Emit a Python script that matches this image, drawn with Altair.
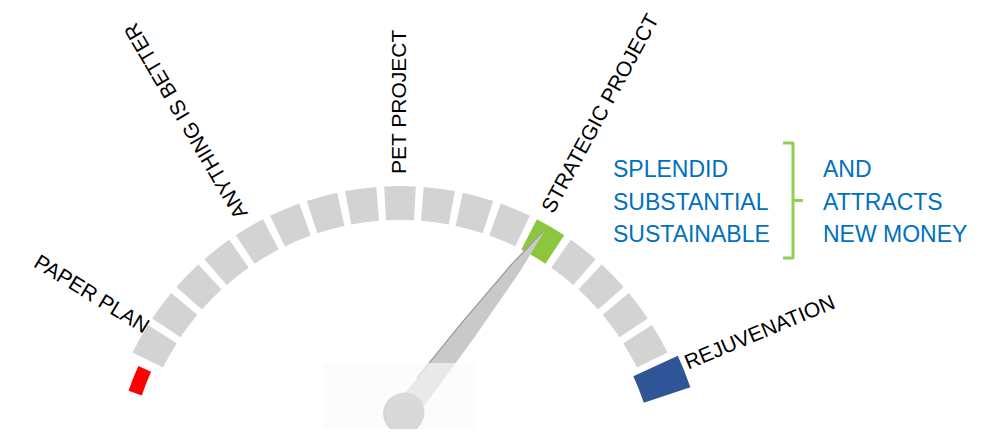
import math
import altair as alt
import pandas as pd

# ---------------- data ----------------
segment_index = list(range(19))
segment_kind = ["low"] + ["idle"] * 12 + ["current"] + ["idle"] * 4 + ["high"]
kind_colors = {"low": "#ff0000", "idle": "#d3d3d3", "current": "#8cc63e", "high": "#2f5597"}
needle_value = 12.9

label_texts = ["PAPER PLAN", "ANYTHING IS BETTER", "PET PROJECT", "STRATEGIC PROJECT", "REJUVENATION"]
label_values = [1.3, 5.0, 9.0, 12.75, 17.85]
label_outward = [False, True, True, True, True]

left_words = ["SPLENDID", "SUBSTANTIAL", "SUSTAINABLE"]
right_words = ["AND", "ATTRACTS", "NEW MONEY"]

# ---------------- layout ----------------
W, H = 965, 421
PITCH = 7.6          # degrees per gauge step
MID = 9              # index at 12 o'clock
XD = [-392, 573]     # gauge-centred pixel-like coordinates (y up)
YD = [55, 476]
xs = alt.Scale(domain=XD, nice=False, zero=False)
ys = alt.Scale(domain=YD, nice=False, zero=False)

half_w = {"low": 0.35, "idle": 0.40, "current": 0.40, "high": 0.42}
radii = {"low": (273, 287), "idle": (264, 298), "current": (264, 298), "high": (257, 306)}

def ang(v):
    return math.radians((v - MID) * PITCH)

def polar(v, r):
    a = ang(v)
    return r * math.sin(a), r * math.cos(a)

seg = pd.DataFrame({
    "i": segment_index,
    "kind": segment_kind,
})
seg["t0"] = seg["i"] - seg["kind"].map(half_w)
seg["t1"] = seg["i"] + seg["kind"].map(half_w)
seg["r0"] = seg["kind"].map(lambda k: radii[k][0])
seg["r1"] = seg["kind"].map(lambda k: radii[k][1])
seg["color"] = seg["kind"].map(kind_colors)
seg["cx"] = 0
seg["cy"] = 0

full = 2 * math.pi
theta_scale = alt.Scale(domain=[0, 18], range=[full + ang(0), full + ang(18)])

arcs = alt.Chart(seg).mark_arc(stroke=None).encode(
    x=alt.X("cx:Q", scale=xs, axis=None),
    y=alt.Y("cy:Q", scale=ys, axis=None),
    theta=alt.Theta("t0:Q", scale=theta_scale),
    theta2="t1:Q",
    radius=alt.Radius("r1:Q", scale=None),
    radius2="r0:Q",
    color=alt.Color("color:N", scale=None),
)

# needle
hub = (5.0, 72.0)
tip = polar(needle_value, 290)
dx, dy = tip[0] - hub[0], tip[1] - hub[1]
L = math.hypot(dx, dy)
ux, uy = dx / L, dy / L
nx, ny = -uy, ux
fr = [0.0, 0.45, 0.8, 1.0]
wd = [24, 19, 11, 1]
needle_df = pd.DataFrame({
    "f": fr,
    "px": [hub[0] + f * dx for f in fr],
    "py": [hub[1] + f * dy for f in fr],
    "w": wd,
})
needle = alt.Chart(needle_df).mark_trail(color="#c9c9c9").encode(
    x=alt.X("px:Q", scale=xs, axis=None),
    y=alt.Y("py:Q", scale=ys, axis=None),
    size=alt.Size("w:Q", scale=None),
    order="f:Q",
)

def width_at(f):
    for k in range(len(fr) - 1):
        if fr[k] <= f <= fr[k + 1]:
            t = (f - fr[k]) / (fr[k + 1] - fr[k])
            return wd[k] + t * (wd[k + 1] - wd[k])
    return wd[-1]

ef = [0.15, 0.45, 0.8, 1.0]
edge_df = pd.DataFrame({
    "f": ef,
    "px": [hub[0] + f * dx + nx * width_at(f) / 2 for f in ef],
    "py": [hub[1] + f * dy + ny * width_at(f) / 2 for f in ef],
})
edge = alt.Chart(edge_df).mark_line(color="#9c9c9c", strokeWidth=1.3).encode(
    x=alt.X("px:Q", scale=xs, axis=None),
    y=alt.Y("py:Q", scale=ys, axis=None),
    order="f:Q",
)

veil_df = pd.DataFrame({"x0": [hub[0] - 82], "x1": [hub[0] + 71], "y0": [hub[1] + 49], "y1": [YD[0]]})
veil = alt.Chart(veil_df).mark_rect(color="#fafafa", opacity=0.65).encode(
    x=alt.X("x0:Q", scale=xs, axis=None), x2="x1:Q",
    y=alt.Y("y0:Q", scale=ys, axis=None), y2="y1:Q",
)

hub_df = pd.DataFrame({"px": [hub[0]], "py": [hub[1]]})
hub_shadow = alt.Chart(hub_df).transform_calculate(sx="datum.px - 1.5", sy="datum.py - 1.5").mark_circle(
    color="#c2c2c2", opacity=0.7, size=math.pi * 23 ** 2).encode(
    x=alt.X("sx:Q", scale=xs, axis=None),
    y=alt.Y("sy:Q", scale=ys, axis=None),
)
hub_mark = alt.Chart(hub_df).mark_circle(color="#d9d9d9", opacity=1, size=math.pi * 22 ** 2).encode(
    x=alt.X("px:Q", scale=xs, axis=None),
    y=alt.Y("py:Q", scale=ys, axis=None),
)

# gauge labels, radial
R_OUT, R_IN = 310, 297
rows = []
for t, v, o in zip(label_texts, label_values, label_outward):
    r = R_OUT if o else R_IN
    x, y = polar(v, r)
    deg = (v - MID) * PITCH
    rot = (deg - 90) if o else (deg + 90)
    rows.append({"text": t, "px": x, "py": y, "rot": rot % 360, "out": o})
lab = pd.DataFrame(rows)

def label_layer(outward, align):
    return alt.Chart(lab[lab["out"] == outward]).mark_text(
        align=align, baseline="middle", font="Liberation Sans", fontSize=21, color="#000000"
    ).encode(
        x=alt.X("px:Q", scale=xs, axis=None),
        y=alt.Y("py:Q", scale=ys, axis=None),
        text="text:N",
        angle=alt.Angle("rot:Q", scale=None),
    )

# blue statements
LINE = 32.5
words = pd.DataFrame(
    [{"text": w, "col": 0, "line": k} for k, w in enumerate(left_words)]
    + [{"text": w, "col": 1, "line": k} for k, w in enumerate(right_words)]
)
words["px"] = words["col"].map({0: 213, 1: 423})
words["py"] = 307 - words["line"] * LINE
statements = alt.Chart(words).mark_text(
    align="left", baseline="alphabetic", font="Liberation Sans", fontSize=23, color="#0070c0"
).encode(
    x=alt.X("px:Q", scale=xs, axis=None),
    y=alt.Y("py:Q", scale=ys, axis=None),
    text="text:N",
)

# bracket
bx, btop, bbot = 393, 341, 226
br_df = pd.DataFrame({
    "o": [0, 1, 2, 3],
    "px": [bx - 10, bx, bx, bx - 10],
    "py": [btop, btop, bbot, bbot],
})
bracket = alt.Chart(br_df).mark_line(color="#92d050", strokeWidth=3, strokeJoin="round").encode(
    x=alt.X("px:Q", scale=xs, axis=None),
    y=alt.Y("py:Q", scale=ys, axis=None),
    order="o:Q",
)
tick_df = pd.DataFrame({"o": [0, 1], "px": [bx, bx + 10], "py": [(btop + bbot) / 2] * 2})
tick = alt.Chart(tick_df).mark_line(color="#92d050", strokeWidth=3).encode(
    x=alt.X("px:Q", scale=xs, axis=None),
    y=alt.Y("py:Q", scale=ys, axis=None),
    order="o:Q",
)

chart = alt.layer(
    arcs, needle, edge, veil, hub_shadow, hub_mark,
    label_layer(True, "left"), label_layer(False, "right"),
    statements, bracket, tick,
).properties(
    width=W, height=H, padding=0,
    autosize=alt.AutoSizeParams(type="none"),
    background="#ffffff",
).configure_view(stroke=None)

chart.save("out.html", embed_options={"renderer": "svg", "actions": False})
